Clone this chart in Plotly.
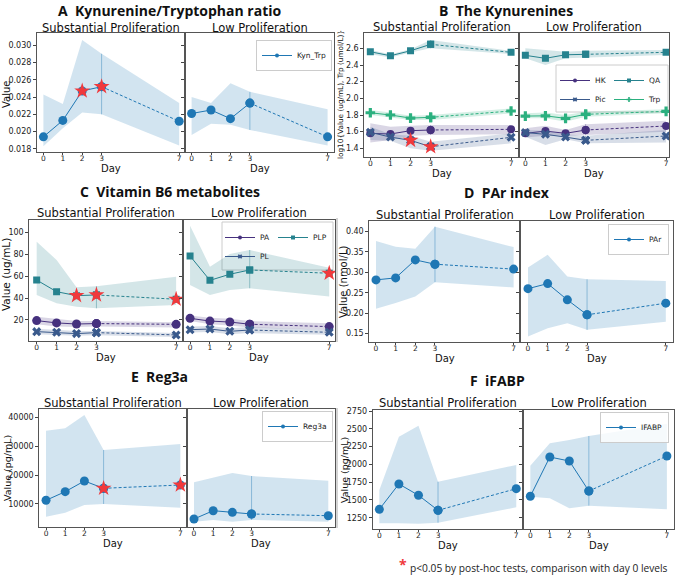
import plotly.graph_objects as go

W, H = 676, 575

# ---------------- data ----------------
days = [0, 1, 2, 3, 7]
day_labels = ["0", "1", "2", "3", "7"]
split_day = 3

# A  Kynurenine/Tryptophan ratio
kyn_sub = [0.0194, 0.0213, 0.0247, 0.0252, 0.0212]
kyn_sub_hi = [0.0243, 0.0232, 0.0306, 0.0290, 0.0233]
kyn_sub_lo = [0.0183, 0.0204, 0.0222, 0.0220, 0.0184]
kyn_sub_sig = [2, 3]
kyn_low = [0.0221, 0.0225, 0.0215, 0.0233, 0.0194]
kyn_low_hi = [0.0240, 0.0233, 0.0256, 0.0246, 0.0226]
kyn_low_lo = [0.0196, 0.0209, 0.0208, 0.0202, 0.0184]
kyn_low_sig = []

# B  The Kynurenines (log10)
hk_sub = [1.580, 1.572, 1.612, 1.620, 1.628]
hk_sub_hi = [1.70, 1.66, 1.67, 1.68, 1.68]
hk_sub_lo = [1.47, 1.50, 1.55, 1.56, 1.57]
pic_sub = [1.592, 1.535, 1.496, 1.419, 1.532]
pic_sub_hi = [1.66, 1.57, 1.55, 1.48, 1.58]
pic_sub_lo = [1.50, 1.49, 1.40, 1.37, 1.46]
pic_sub_sig = [2, 3]
qa_sub = [2.559, 2.511, 2.571, 2.648, 2.552]
qa_sub_hi = [2.58, 2.53, 2.59, 2.70, 2.57]
qa_sub_lo = [2.53, 2.49, 2.55, 2.60, 2.53]
trp_sub = [1.827, 1.800, 1.763, 1.772, 1.848]
trp_sub_hi = [1.86, 1.83, 1.79, 1.80, 1.88]
trp_sub_lo = [1.80, 1.77, 1.74, 1.74, 1.82]
hk_low = [1.580, 1.607, 1.580, 1.620, 1.668]
hk_low_hi = [1.64, 1.67, 1.62, 1.69, 1.73]
hk_low_lo = [1.53, 1.55, 1.55, 1.56, 1.60]
pic_low = [1.590, 1.568, 1.535, 1.496, 1.548]
pic_low_hi = [1.62, 1.61, 1.57, 1.55, 1.62]
pic_low_lo = [1.54, 1.44, 1.51, 1.46, 1.47]
qa_low = [2.516, 2.480, 2.523, 2.528, 2.552]
qa_low_hi = [2.60, 2.58, 2.56, 2.57, 2.58]
qa_low_lo = [2.48, 2.40, 2.48, 2.49, 2.52]
trp_low = [1.787, 1.790, 1.760, 1.808, 1.844]
trp_low_hi = [1.82, 1.83, 1.80, 1.84, 1.87]
trp_low_lo = [1.76, 1.76, 1.72, 1.78, 1.82]

# C  Vitamin B6 metabolites
plp_sub = [56.6, 45.9, 42.3, 42.9, 39.0]
plp_sub_hi = [91.7, 75.0, 50.0, 51.0, 59.7]
plp_sub_lo = [42.9, 35.3, 32.2, 30.7, 33.7]
plp_sub_sig = [2, 3, 7]
pa_sub = [19.4, 17.3, 16.3, 16.7, 16.0]
pa_sub_hi = [23.0, 21.0, 19.0, 19.0, 18.0]
pa_sub_lo = [16.0, 14.0, 13.5, 14.0, 13.0]
pl_sub = [9.3, 8.7, 7.5, 8.4, 6.3]
pl_sub_hi = [12.0, 11.0, 10.0, 10.0, 8.0]
pl_sub_lo = [7.0, 6.5, 5.5, 6.0, 4.5]
plp_low = [78.6, 56.3, 61.9, 65.8, 62.8]
plp_low_hi = [106.4, 68.8, 80.5, 84.1, 67.8]
plp_low_lo = [52.0, 42.9, 47.5, 49.0, 41.4]
plp_low_sig = [7]
pa_low = [21.5, 19.0, 18.1, 16.1, 13.9]
pa_low_hi = [24.0, 22.0, 21.0, 19.0, 17.0]
pa_low_lo = [19.0, 16.0, 15.0, 13.0, 11.0]
pl_low = [11.1, 11.7, 9.6, 10.8, 8.7]
pl_low_hi = [14.0, 14.5, 12.5, 13.5, 11.0]
pl_low_lo = [8.5, 9.0, 7.0, 8.0, 6.5]

# D  PAr index
par_sub = [0.2816, 0.2865, 0.3306, 0.320, 0.308]
par_sub_hi = [0.377, 0.363, 0.358, 0.412, 0.362]
par_sub_lo = [0.211, 0.225, 0.241, 0.276, 0.263]
par_low = [0.260, 0.2725, 0.2326, 0.196, 0.2245]
par_low_hi = [0.312, 0.343, 0.290, 0.283, 0.279]
par_low_lo = [0.143, 0.163, 0.175, 0.159, 0.179]

# E  Reg3a
reg_sub = [11280, 14260, 17960, 15430, 16570]
reg_sub_hi = [35360, 36190, 40800, 28690, 30760]
reg_sub_lo = [5600, 7000, 9650, 10000, 8720]
reg_sub_sig = [3, 7]
reg_low = [4810, 7680, 7120, 6540, 5950]
reg_low_hi = [17500, 19240, 20730, 19690, 18060]
reg_low_lo = [3880, 4460, 3880, 4460, 3880]

# F  iFABP
ifabp_sub = [1368, 1724, 1565, 1354, 1658]
ifabp_sub_hi = [1640, 2389, 2543, 1756, 1991]
ifabp_sub_lo = [1171, 1171, 1165, 1180, 1396]
ifabp_low = [1551, 2103, 2047, 1625, 2117]
ifabp_low_hi = [1981, 2296, 2343, 2399, 2570]
ifabp_low_lo = [1545, 1523, 1382, 1419, 1368]

panel_titles = ["A\u00a0\u00a0Kynurenine/Tryptophan ratio", "B\u00a0\u00a0The Kynurenines",
                "C\u00a0\u00a0Vitamin B6 metabolites", "D\u00a0\u00a0PAr index",
                "E\u00a0\u00a0Reg3a", "F\u00a0\u00a0iFABP"]
group_titles = ["Substantial Proliferation", "Low Proliferation"]
y_titles = ["Value", "log10{Value (ug/mL), Trp (umol/L)}", "Value (ug/mL)",
            "Value (nmol/L)", "Value (pg/mL)", "Value (pg/mL)"]
footnote = "p<0.05 by post-hoc tests, comparison with day 0 levels"

# ---------------- styling / layout ----------------
TAB_BLUE = "#1f77b4"
C_HK = "#46317e"
C_PIC = "#3a5a8c"
C_QA = "#26828e"
C_TRP = "#2bb07f"
STAR = "#f0393c"
FONT = "DejaVu Sans"
TFONT = "Open Sans"


def fx(px):
    return px / W


def fy(py):
    return 1 - py / H


def rgba(hexc, a):
    h = hexc.lstrip("#")
    return "rgba(%d,%d,%d,%s)" % (int(h[0:2], 16), int(h[2:4], 16), int(h[4:6], 16), a)


# panel geometry in pixels: (left, mid, right, top, bottom, xrange_left, xrange_right, yrange)
geom = [
    (37, 185, 334, 33, 152, [-0.33, 7.30], [-0.34, 7.33], [0.01765, 0.0314]),
    (364.3, 518.7, 669.3, 33, 157, [-0.30, 7.38], [-0.33, 7.16], [1.296, 2.784]),
    (29.3, 182.7, 335, 220, 340.7, [-0.37, 7.33], [-0.37, 7.29], [1.0, 111.6]),
    (369.3, 520.3, 672.7, 221, 341.7, [-0.34, 7.34], [-0.39, 7.35], [0.130, 0.426]),
    (39.3, 186.7, 335, 409.3, 527.3, [-0.35, 7.33], [-0.38, 7.35], [1935, 42770]),
    (372.7, 523.3, 674.3, 410, 529.3, [-0.34, 7.36], [-0.36, 7.38], [1087, 2764]),
]
ytick_vals = [
    [0.018, 0.020, 0.022, 0.024, 0.026, 0.028, 0.030],
    [1.4, 1.6, 1.8, 2.0, 2.2, 2.4, 2.6],
    [20, 40, 60, 80, 100],
    [0.15, 0.20, 0.25, 0.30, 0.35, 0.40],
    [10000, 20000, 30000, 40000],
    [1250, 1500, 1750, 2000, 2250, 2500, 2750],
]
ytick_fmt = [".3f", ".1f", "d", ".2f", "d", "d"]

fig = go.Figure()


def axn(n):
    return ("x", "y") if n == 1 else ("x%d" % n, "y%d" % n)


def add_series(n, vals, lo, hi, sig, color, symbol, msize, band_alpha=0.2):
    xa, ya = axn(n)
    common = dict(xaxis=xa, yaxis=ya, showlegend=False, hoverinfo="skip")
    fig.add_trace(go.Scatter(x=days + days[::-1], y=hi + lo[::-1], fill="toself",
                             fillcolor=rgba(color, band_alpha), line=dict(width=0),
                             mode="lines", **common))
    k = days.index(split_day)
    fig.add_trace(go.Scatter(x=[days[k], days[k]], y=[lo[k], hi[k]], mode="lines",
                             line=dict(color=rgba(color, 0.4), width=1), **common))
    mk = dict(symbol=symbol, size=msize, color=color, line=dict(width=0))
    fig.add_trace(go.Scatter(x=days[:k + 1], y=vals[:k + 1], mode="lines+markers",
                             line=dict(color=color, width=1), marker=mk, **common))
    fig.add_trace(go.Scatter(x=days[k:], y=vals[k:], mode="lines+markers",
                             line=dict(color=color, width=1, dash="3px,2px"), marker=mk, **common))
    if sig:
        fig.add_trace(go.Scatter(x=sig, y=[vals[days.index(d)] for d in sig], mode="markers",
                                 marker=dict(symbol="star", size=12, color=STAR,
                                             line=dict(width=0)), **common))


def add_legend_entry(n, name, color, symbol, legend_id):
    xa, ya = axn(n)
    fig.add_trace(go.Scatter(x=[None], y=[None], mode="lines+markers", name=name,
                             line=dict(color=color, width=1),
                             marker=dict(symbol=symbol, size=4, color=color),
                             legend=legend_id, xaxis=xa, yaxis=ya, showlegend=True))


# A
add_series(1, kyn_sub, kyn_sub_lo, kyn_sub_hi, kyn_sub_sig, TAB_BLUE, "circle", 9)
add_series(2, kyn_low, kyn_low_lo, kyn_low_hi, kyn_low_sig, TAB_BLUE, "circle", 9)
add_legend_entry(2, "Kyn_Trp", TAB_BLUE, "circle", "legend")
# B
for n, series in [(3, [(hk_sub, hk_sub_lo, hk_sub_hi, [], C_HK, "circle", 8),
                       (pic_sub, pic_sub_lo, pic_sub_hi, pic_sub_sig, C_PIC, "x", 8),
                       (qa_sub, qa_sub_lo, qa_sub_hi, [], C_QA, "square", 7),
                       (trp_sub, trp_sub_lo, trp_sub_hi, [], C_TRP, "cross", 8)]),
                  (4, [(hk_low, hk_low_lo, hk_low_hi, [], C_HK, "circle", 8),
                       (pic_low, pic_low_lo, pic_low_hi, [], C_PIC, "x", 8),
                       (qa_low, qa_low_lo, qa_low_hi, [], C_QA, "square", 7),
                       (trp_low, trp_low_lo, trp_low_hi, [], C_TRP, "cross", 8)])]:
    for v, lo, hi, sg, c, sym, ms in series:
        add_series(n, v, lo, hi, sg, c, sym, ms)
add_legend_entry(4, "HK", C_HK, "circle", "legend2")
add_legend_entry(4, "Pic", C_PIC, "x", "legend2")
add_legend_entry(4, "QA", C_QA, "square", "legend7")
add_legend_entry(4, "Trp", C_TRP, "cross", "legend7")
# C
for n, series in [(5, [(plp_sub, plp_sub_lo, plp_sub_hi, plp_sub_sig, C_QA, "square", 7),
                       (pa_sub, pa_sub_lo, pa_sub_hi, [], C_HK, "circle", 9),
                       (pl_sub, pl_sub_lo, pl_sub_hi, [], C_PIC, "x", 8)]),
                  (6, [(plp_low, plp_low_lo, plp_low_hi, plp_low_sig, C_QA, "square", 7),
                       (pa_low, pa_low_lo, pa_low_hi, [], C_HK, "circle", 9),
                       (pl_low, pl_low_lo, pl_low_hi, [], C_PIC, "x", 8)])]:
    for v, lo, hi, sg, c, sym, ms in series:
        add_series(n, v, lo, hi, sg, c, sym, ms)
add_legend_entry(6, "PA", C_HK, "circle", "legend3")
add_legend_entry(6, "PL", C_PIC, "x", "legend3")
add_legend_entry(6, "PLP", C_QA, "square", "legend8")
# D
add_series(7, par_sub, par_sub_lo, par_sub_hi, [], TAB_BLUE, "circle", 9)
add_series(8, par_low, par_low_lo, par_low_hi, [], TAB_BLUE, "circle", 9)
add_legend_entry(8, "PAr", TAB_BLUE, "circle", "legend4")
# E
add_series(9, reg_sub, reg_sub_lo, reg_sub_hi, reg_sub_sig, TAB_BLUE, "circle", 9)
add_series(10, reg_low, reg_low_lo, reg_low_hi, [], TAB_BLUE, "circle", 9)
add_legend_entry(10, "Reg3a", TAB_BLUE, "circle", "legend5")
# F
add_series(11, ifabp_sub, ifabp_sub_lo, ifabp_sub_hi, [], TAB_BLUE, "circle", 9)
add_series(12, ifabp_low, ifabp_low_lo, ifabp_low_hi, [], TAB_BLUE, "circle", 9)
add_legend_entry(12, "IFABP", TAB_BLUE, "circle", "legend6")

layout = dict(width=W, height=H, margin=dict(l=0, r=0, t=0, b=0), template="none",
              paper_bgcolor="white", plot_bgcolor="white",
              font=dict(family=FONT, size=8, color="#222"))
annotations = []
shapes = []

AX_COLOR = "#555"
TITLE_X = [170, 506, 170, 507, 159, 497]
TITLE_Y = [10, 10, 191.5, 192, 377, 380]
SUB_Y = [28, 26.7, 213.3, 215, 403.3, 403.3]
DAY_Y = [168, 174, 357.7, 358.7, 543, 545.5]
for p, (l, m, r, t, b, xrl, xrr, yr) in enumerate(geom):
    for s in range(2):
        n = 2 * p + s + 1
        xk = "xaxis" if n == 1 else "xaxis%d" % n
        yk = "yaxis" if n == 1 else "yaxis%d" % n
        xa, ya = axn(n)
        x0, x1 = (l, m) if s == 0 else (m, r)
        layout[xk] = dict(domain=[fx(x0), fx(x1)], range=xrl if s == 0 else xrr, anchor=ya,
                          tickmode="array", tickvals=days, ticktext=day_labels,
                          ticks="outside", ticklen=2, tickwidth=0.8, tickcolor="#444",
                          showline=True, mirror=True, linecolor=AX_COLOR, linewidth=1,
                          showgrid=False, zeroline=False, automargin=False,
                          ticklabelstandoff=-3,
                          tickfont=dict(family=FONT, size=7.5, color="#222"))
        layout[yk] = dict(domain=[fy(b), fy(t)], range=yr, anchor=xa,
                          tickmode="array", tickvals=ytick_vals[p], tickformat=ytick_fmt[p],
                          showticklabels=(s == 0),
                          ticks="outside", ticklen=3, tickwidth=0.8, tickcolor="#444",
                          showline=True, mirror=True, linecolor=AX_COLOR, linewidth=1,
                          showgrid=False, zeroline=False, automargin=False,
                          tickfont=dict(family=FONT, size=8, color="#222"))
        annotations.append(dict(text=group_titles[s], x=fx((x0 + x1) / 2), y=fy(SUB_Y[p]),
                                xref="paper", yref="paper", xanchor="center", yanchor="middle",
                                showarrow=False, font=dict(family=FONT, size=11.5, color="#111")))
        annotations.append(dict(text="Day", x=fx((x0 + x1) / 2), y=fy(DAY_Y[p]),
                                xref="paper", yref="paper", xanchor="center", yanchor="middle",
                                showarrow=False, font=dict(family=FONT, size=10, color="#111")))
    annotations.append(dict(text="<b>%s</b>" % panel_titles[p], x=fx(TITLE_X[p]), y=fy(TITLE_Y[p]),
                            xref="paper", yref="paper", xanchor="center", yanchor="middle",
                            showarrow=False, font=dict(family=TFONT, size=14, color="#111")))

YT_POS = [(7, 95, 10), (341, 95, 7.3), (6, 275, 10.5), (343, 282, 10), (7, 468, 9.5), (344, 470, 9.5)]
for p, (xp, yp, fs) in enumerate(YT_POS):
    annotations.append(dict(text=y_titles[p], x=fx(xp), y=fy(yp), xref="paper", yref="paper",
                            xanchor="center", yanchor="middle", textangle=-90, showarrow=False,
                            font=dict(family=FONT, size=fs, color="#111")))

annotations.append(dict(text="<b>*</b>", x=fx(403), y=0, xref="paper", yref="paper",
                        xanchor="center", yanchor="bottom", showarrow=False, borderpad=0,
                        font=dict(family=TFONT, size=14, color=STAR)))
annotations.append(dict(text=footnote, x=fx(408), y=fy(568), xref="paper", yref="paper",
                        xanchor="left", yanchor="middle", showarrow=False,
                        font=dict(family=TFONT, size=10.2, color="#222")))

leg_common = dict(font=dict(family=FONT, size=7.5, color="#222"), itemwidth=30,
                  bgcolor="rgba(255,255,255,0.8)", bordercolor="#cccccc", borderwidth=1,
                  xanchor="right", yanchor="top", tracegroupgap=0)
layout["legend"] = dict(x=fx(332), y=fy(40), **leg_common)
layout["legend4"] = dict(x=fx(669), y=fy(224), **leg_common)
layout["legend5"] = dict(x=fx(333), y=fy(411), **leg_common)
layout["legend6"] = dict(x=fx(669), y=fy(412), **leg_common)
nb = dict(leg_common)
nb.update(bgcolor="rgba(0,0,0,0)", borderwidth=0)
# B: two-column legend
layout["legend2"] = dict(x=fx(612), y=fy(66), **nb)
layout["legend7"] = dict(x=fx(667), y=fy(66), **nb)
shapes.append(dict(type="rect", xref="paper", yref="paper", x0=fx(556), x1=fx(668),
                   y0=fy(112), y1=fy(65), line=dict(color="#cccccc", width=1),
                   fillcolor="rgba(255,255,255,0.8)", layer="below"))
# C: two-column legend
layout["legend3"] = dict(x=fx(276), y=fy(223), **nb)
layout["legend8"] = dict(x=fx(332), y=fy(223), **nb)
shapes.append(dict(type="rect", xref="paper", yref="paper", x0=fx(222), x1=fx(333),
                   y0=fy(270), y1=fy(222), line=dict(color="#cccccc", width=1),
                   fillcolor="rgba(255,255,255,0.8)", layer="below"))
# thin frame edges seen at the left of panels D and F
for (y0, y1) in [(218, 342), (408, 528)]:
    shapes.append(dict(type="line", xref="paper", yref="paper", x0=fx(337), x1=fx(337),
                       y0=fy(y1), y1=fy(y0), line=dict(color="#aaaaaa", width=1)))

layout["annotations"] = annotations
layout["shapes"] = shapes
fig.update_layout(**layout)
fig.write_html("out.html", config={"displayModeBar": False},
               post_script="document.body.style.margin='0';")
